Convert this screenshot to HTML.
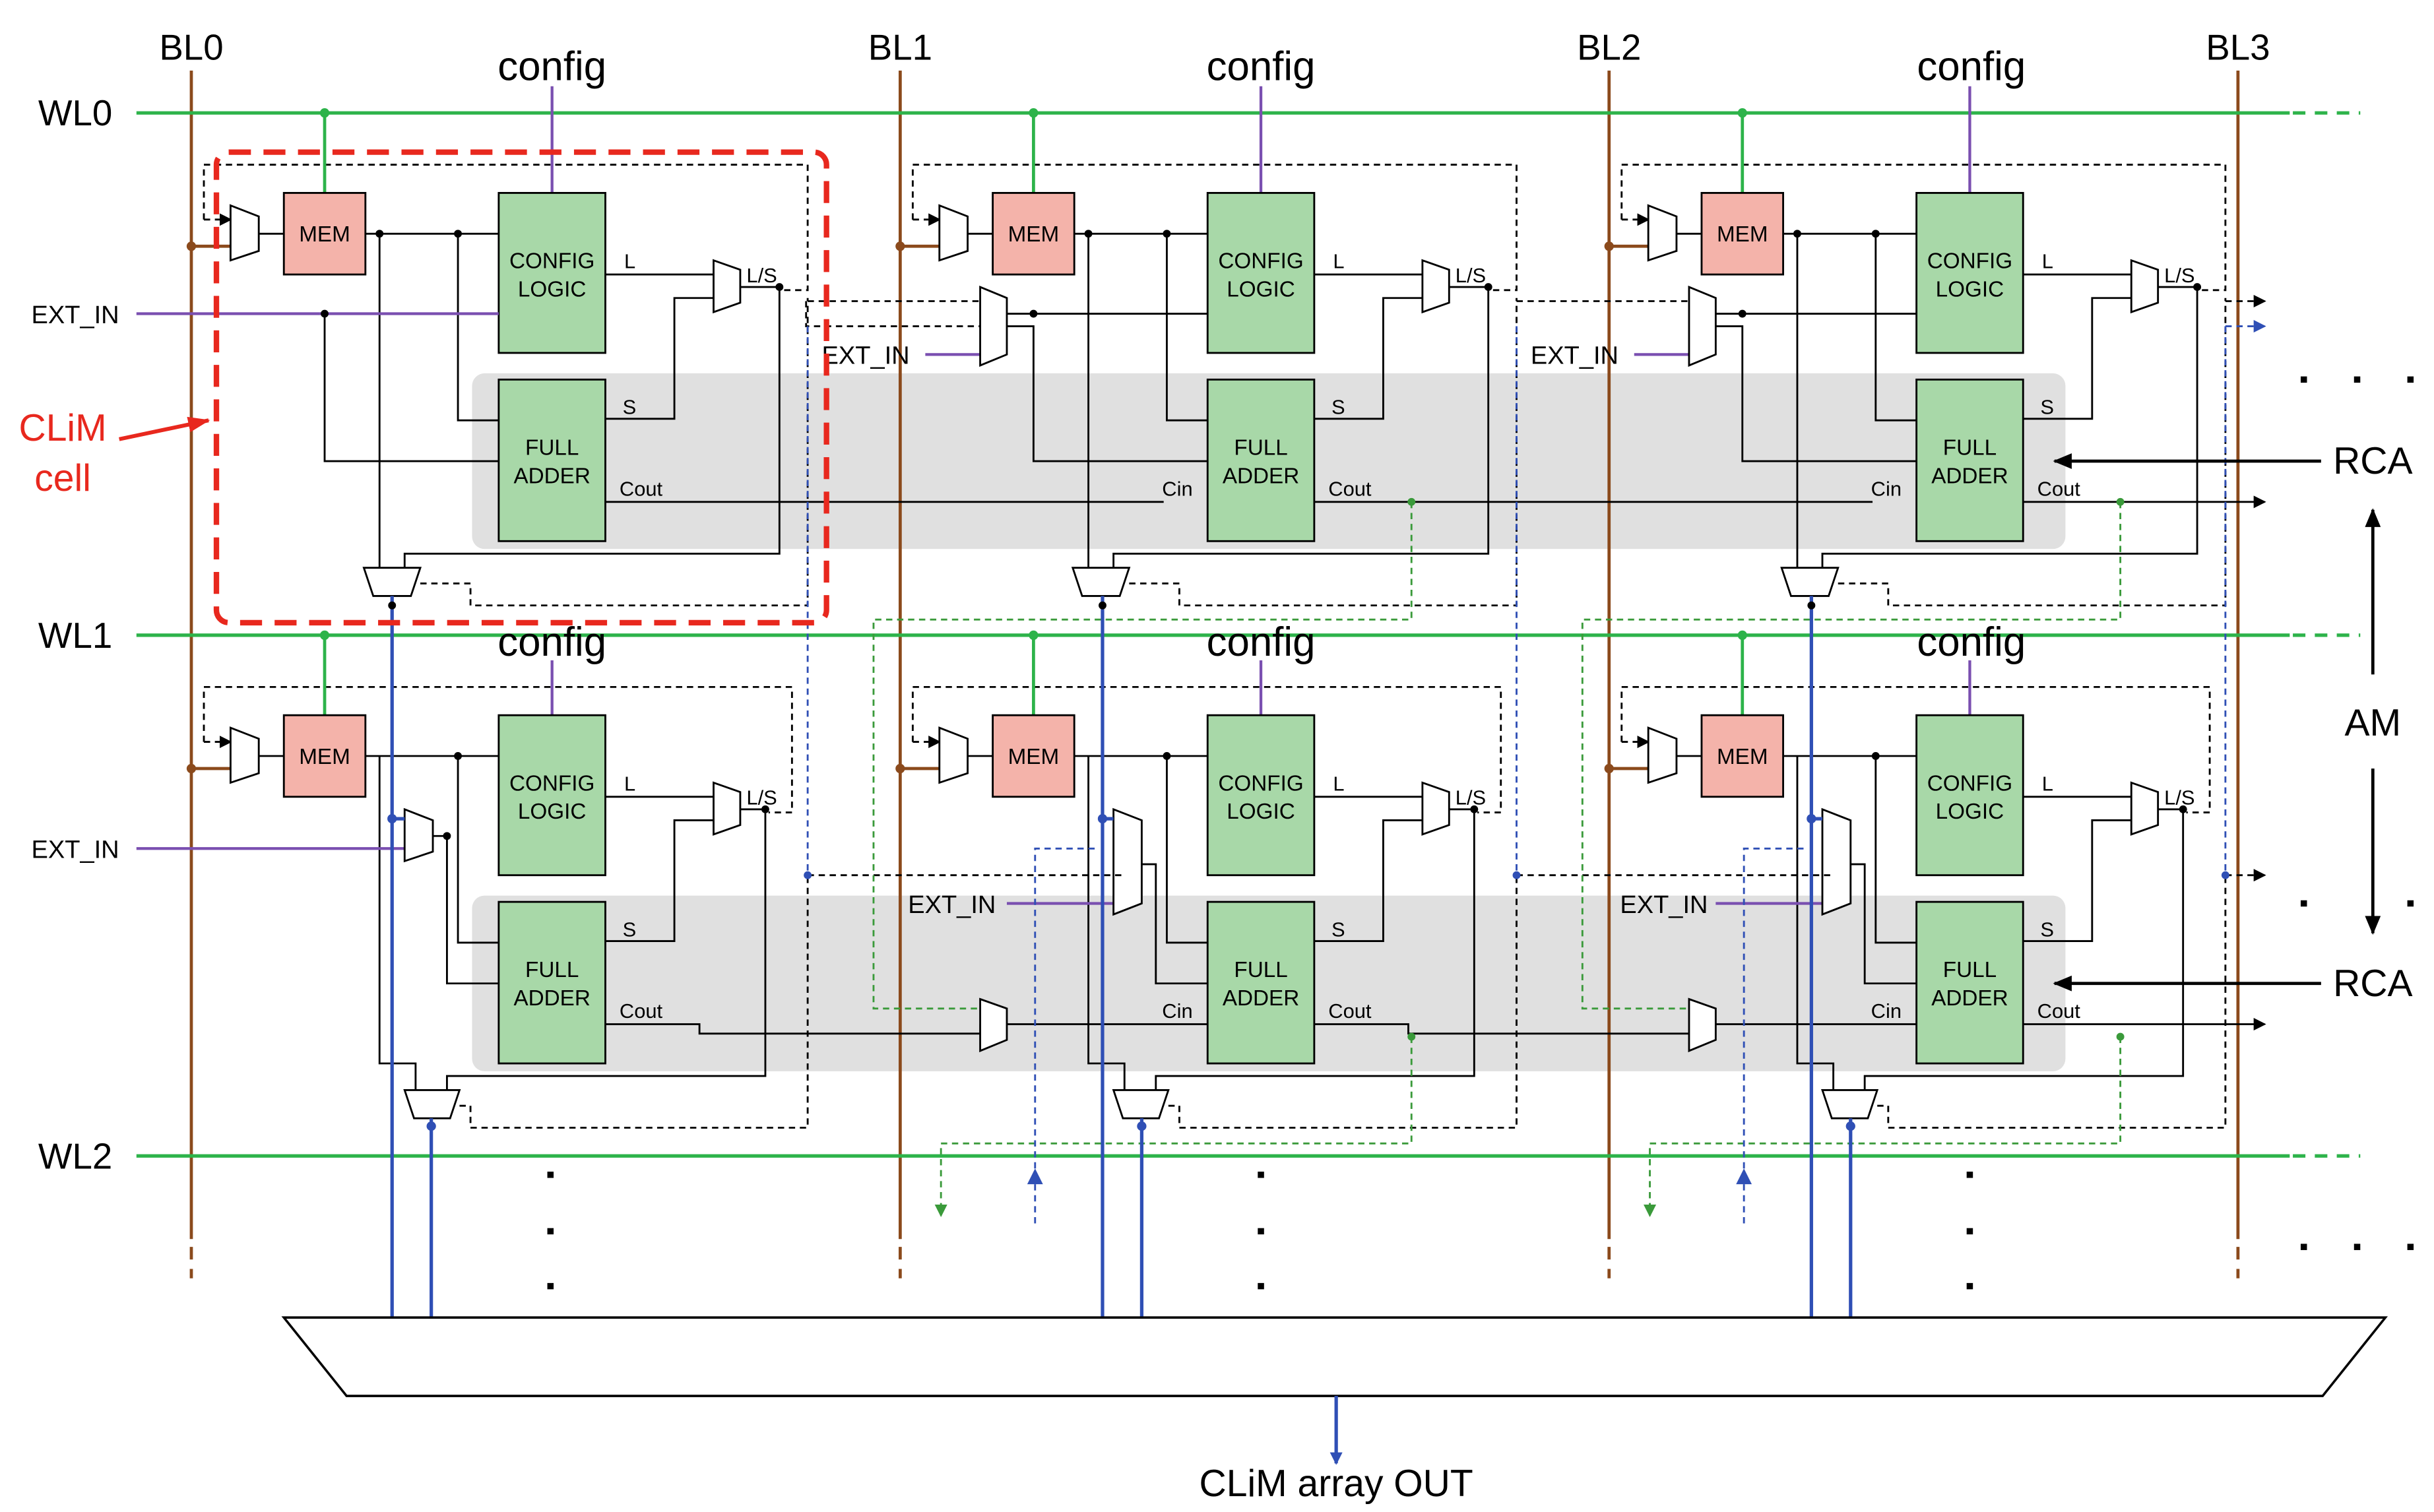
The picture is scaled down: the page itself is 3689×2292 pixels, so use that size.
<!DOCTYPE html>
<html><head><meta charset="utf-8"><style>
html,body{margin:0;padding:0;background:#fff;}
svg{display:block;}
text{font-family:"Liberation Sans",Arial,sans-serif;}
</style></head><body>
<svg width="3689" height="2292" viewBox="0 0 1552 964" preserveAspectRatio="none" xmlns="http://www.w3.org/2000/svg">
<rect width="1552" height="964" fill="#fff"/>
<defs>
<marker id="ab" markerWidth="8" markerHeight="8" refX="7" refY="4" orient="auto" markerUnits="userSpaceOnUse"><path d="M0,0 L8,4 L0,8z" fill="#000"/></marker>
<marker id="ab2" markerWidth="12" markerHeight="10" refX="11" refY="5" orient="auto" markerUnits="userSpaceOnUse"><path d="M0,0 L12,5 L0,10z" fill="#000"/></marker>
<marker id="ar" markerWidth="14" markerHeight="10" refX="13" refY="5" orient="auto" markerUnits="userSpaceOnUse"><path d="M0,0 L14,5 L0,10z" fill="#e8281e"/></marker>
<marker id="abl" markerWidth="8" markerHeight="8" refX="7" refY="4" orient="auto" markerUnits="userSpaceOnUse"><path d="M0,0 L8,4 L0,8z" fill="#2f4fb5"/></marker>
<marker id="agr" markerWidth="8" markerHeight="8" refX="7" refY="4" orient="auto" markerUnits="userSpaceOnUse"><path d="M0,0 L8,4 L0,8z" fill="#3a9a3a"/></marker>
</defs>

<!-- gray bands -->
<rect x="301" y="238" width="1016" height="112" rx="8" fill="#e0e0e0"/>
<rect x="301" y="571" width="1016" height="112" rx="8" fill="#e0e0e0"/>

<!-- bit lines -->
<g stroke="#8b4a1c" stroke-width="2">
<line x1="122" y1="45" x2="122" y2="790"/><line x1="122" y1="795" x2="122" y2="815" stroke-dasharray="8,6"/>
<line x1="574" y1="45" x2="574" y2="790"/><line x1="574" y1="795" x2="574" y2="815" stroke-dasharray="8,6"/>
<line x1="1026" y1="45" x2="1026" y2="790"/><line x1="1026" y1="795" x2="1026" y2="815" stroke-dasharray="8,6"/>
<line x1="1427" y1="45" x2="1427" y2="790"/><line x1="1427" y1="795" x2="1427" y2="815" stroke-dasharray="8,6"/>
</g>
<!-- word lines -->
<g stroke="#2db34a" stroke-width="2.2">
<line x1="87" y1="72" x2="1460" y2="72"/><line x1="1462" y1="72" x2="1505" y2="72" stroke-dasharray="8,6"/>
<line x1="87" y1="405" x2="1460" y2="405"/><line x1="1462" y1="405" x2="1505" y2="405" stroke-dasharray="8,6"/>
<line x1="87" y1="737" x2="1460" y2="737"/><line x1="1462" y1="737" x2="1505" y2="737" stroke-dasharray="8,6"/>
</g>

<g font-size="23" fill="#000" text-anchor="middle">
<text x="122" y="38">BL0</text><text x="574" y="38">BL1</text><text x="1026" y="38">BL2</text><text x="1427" y="38">BL3</text>
<text x="48" y="80">WL0</text><text x="48" y="413">WL1</text><text x="48" y="745">WL2</text>
</g>

<!-- CELL TEMPLATE repeated -->
<!-- cell (0,0) -->
<g transform="translate(0,0)">
<g fill="none" stroke="#000" stroke-width="1.2">
<line x1="122" y1="157" x2="147" y2="157" stroke="#8b4a1c" stroke-width="2"/>
<line x1="165" y1="149" x2="181" y2="149"/>
<polyline points="233,149 318,149"/>
<polyline points="292,149 292,268 318,268"/>
<polyline points="242,149 242,362"/>
<polyline points="386,175 455,175"/>
<polyline points="386,267 430,267 430,190 455,190"/>
<polyline points="472,183 497,183 497,353 258,353 258,362"/>
<polyline points="130,140 130,105 515,105 515,185 500,185" stroke-dasharray="4,3"/>
<polyline points="130,140 147,140" stroke-dasharray="4,3" marker-end="url(#ab)"/>
<polyline points="268,372 300,372 300,386 515,386 515,190" stroke-dasharray="4,3"/>
</g>
<line x1="207" y1="72" x2="207" y2="123" stroke="#2db34a" stroke-width="2"/><circle cx="207" cy="72" r="3" fill="#2db34a"/>
<line x1="352" y1="55" x2="352" y2="123" stroke="#7a4fb0" stroke-width="1.8"/>
<circle cx="122" cy="157" r="3" fill="#8b4a1c"/>
<polygon points="147,131 165,138 165,160 147,166" fill="#fff" stroke="#000" stroke-width="1.2"/>
<rect x="181" y="123" width="52" height="52" fill="#f4b3aa" stroke="#000" stroke-width="1.2"/>
<rect x="318" y="123" width="68" height="102" fill="#a8d8a8" stroke="#000" stroke-width="1.2"/>
<rect x="318" y="242" width="68" height="103" fill="#a8d8a8" stroke="#000" stroke-width="1.2"/>
<polygon points="455,166 472,172 472,193 455,199" fill="#fff" stroke="#000" stroke-width="1.2"/>
<polygon points="232,362 268,362 262,380 238,380" fill="#fff" stroke="#000" stroke-width="1.2"/>
<circle cx="242" cy="149" r="2.5"/><circle cx="292" cy="149" r="2.5"/><circle cx="497" cy="183" r="2.5"/>
<g font-size="14" text-anchor="middle"><text x="207" y="154">MEM</text><text x="352" y="171">CONFIG</text><text x="352" y="189">LOGIC</text><text x="352" y="290">FULL</text><text x="352" y="308">ADDER</text></g>
<g font-size="13"><text x="398" y="171">L</text><text x="476" y="180">L/S</text><text x="397" y="264">S</text><text x="395" y="316">Cout</text></g>
</g>
<!-- row0 col0 specifics -->
<line x1="87" y1="200" x2="318" y2="200" stroke="#7a4fb0" stroke-width="1.8"/>
<polyline points="207,200 207,294 318,294" fill="none" stroke="#000" stroke-width="1.2"/><circle cx="207" cy="200" r="2.5"/>
<text x="48" y="206" font-size="16" text-anchor="middle">EXT_IN</text>
<line x1="386" y1="320" x2="742" y2="320" stroke="#000" stroke-width="1.2"/>

<!-- cell (1,0) and (2,0) -->
<g transform="translate(452,0)">
<g fill="none" stroke="#000" stroke-width="1.2">
<line x1="122" y1="157" x2="147" y2="157" stroke="#8b4a1c" stroke-width="2"/>
<line x1="165" y1="149" x2="181" y2="149"/><polyline points="233,149 318,149"/>
<polyline points="292,149 292,268 318,268"/><polyline points="242,149 242,362"/>
<polyline points="386,175 455,175"/><polyline points="386,267 430,267 430,190 455,190"/>
<polyline points="472,183 497,183 497,353 258,353 258,362"/>
<polyline points="130,140 130,105 515,105 515,185 500,185" stroke-dasharray="4,3"/>
<polyline points="130,140 147,140" stroke-dasharray="4,3" marker-end="url(#ab)"/>
<polyline points="268,372 300,372 300,386 515,386 515,190" stroke-dasharray="4,3"/>
<polyline points="190,208 207,208 207,294 318,294"/>
<polyline points="190,200 318,200"/>
<polyline points="62,192 62,208 173,208" stroke-dasharray="4,3" transform="translate(0,0)"/>
</g>
<line x1="138" y1="226" x2="173" y2="226" stroke="#7a4fb0" stroke-width="1.8"/>
<polygon points="173,183 190,190 190,226 173,233" fill="#fff" stroke="#000" stroke-width="1.2"/>
<line x1="207" y1="72" x2="207" y2="123" stroke="#2db34a" stroke-width="2"/><circle cx="207" cy="72" r="3" fill="#2db34a"/>
<line x1="352" y1="55" x2="352" y2="123" stroke="#7a4fb0" stroke-width="1.8"/>
<circle cx="122" cy="157" r="3" fill="#8b4a1c"/>
<polygon points="147,131 165,138 165,160 147,166" fill="#fff" stroke="#000" stroke-width="1.2"/>
<rect x="181" y="123" width="52" height="52" fill="#f4b3aa" stroke="#000" stroke-width="1.2"/>
<rect x="318" y="123" width="68" height="102" fill="#a8d8a8" stroke="#000" stroke-width="1.2"/>
<rect x="318" y="242" width="68" height="103" fill="#a8d8a8" stroke="#000" stroke-width="1.2"/>
<polygon points="455,166 472,172 472,193 455,199" fill="#fff" stroke="#000" stroke-width="1.2"/>
<polygon points="232,362 268,362 262,380 238,380" fill="#fff" stroke="#000" stroke-width="1.2"/>
<circle cx="242" cy="149" r="2.5"/><circle cx="292" cy="149" r="2.5"/><circle cx="497" cy="183" r="2.5"/><circle cx="207" cy="200" r="2.5"/>
<g font-size="14" text-anchor="middle"><text x="207" y="154">MEM</text><text x="352" y="171">CONFIG</text><text x="352" y="189">LOGIC</text><text x="352" y="290">FULL</text><text x="352" y="308">ADDER</text></g>
<g font-size="13"><text x="398" y="171">L</text><text x="476" y="180">L/S</text><text x="397" y="264">S</text><text x="395" y="316">Cout</text><text x="289" y="316">Cin</text></g>
<text x="100" y="232" font-size="16" text-anchor="middle">EXT_IN</text>
</g>
<g transform="translate(904,0)">
<g fill="none" stroke="#000" stroke-width="1.2">
<line x1="122" y1="157" x2="147" y2="157" stroke="#8b4a1c" stroke-width="2"/>
<line x1="165" y1="149" x2="181" y2="149"/><polyline points="233,149 318,149"/>
<polyline points="292,149 292,268 318,268"/><polyline points="242,149 242,362"/>
<polyline points="386,175 455,175"/><polyline points="386,267 430,267 430,190 455,190"/>
<polyline points="472,183 497,183 497,353 258,353 258,362"/>
<polyline points="130,140 130,105 515,105 515,185 500,185" stroke-dasharray="4,3"/>
<polyline points="130,140 147,140" stroke-dasharray="4,3" marker-end="url(#ab)"/>
<polyline points="268,372 300,372 300,386 515,386 515,190" stroke-dasharray="4,3"/>
<polyline points="190,208 207,208 207,294 318,294"/>
<polyline points="190,200 318,200"/>
</g>
<line x1="138" y1="226" x2="173" y2="226" stroke="#7a4fb0" stroke-width="1.8"/>
<polygon points="173,183 190,190 190,226 173,233" fill="#fff" stroke="#000" stroke-width="1.2"/>
<line x1="207" y1="72" x2="207" y2="123" stroke="#2db34a" stroke-width="2"/><circle cx="207" cy="72" r="3" fill="#2db34a"/>
<line x1="352" y1="55" x2="352" y2="123" stroke="#7a4fb0" stroke-width="1.8"/>
<circle cx="122" cy="157" r="3" fill="#8b4a1c"/>
<polygon points="147,131 165,138 165,160 147,166" fill="#fff" stroke="#000" stroke-width="1.2"/>
<rect x="181" y="123" width="52" height="52" fill="#f4b3aa" stroke="#000" stroke-width="1.2"/>
<rect x="318" y="123" width="68" height="102" fill="#a8d8a8" stroke="#000" stroke-width="1.2"/>
<rect x="318" y="242" width="68" height="103" fill="#a8d8a8" stroke="#000" stroke-width="1.2"/>
<polygon points="455,166 472,172 472,193 455,199" fill="#fff" stroke="#000" stroke-width="1.2"/>
<polygon points="232,362 268,362 262,380 238,380" fill="#fff" stroke="#000" stroke-width="1.2"/>
<circle cx="242" cy="149" r="2.5"/><circle cx="292" cy="149" r="2.5"/><circle cx="497" cy="183" r="2.5"/><circle cx="207" cy="200" r="2.5"/>
<g font-size="14" text-anchor="middle"><text x="207" y="154">MEM</text><text x="352" y="171">CONFIG</text><text x="352" y="189">LOGIC</text><text x="352" y="290">FULL</text><text x="352" y="308">ADDER</text></g>
<g font-size="13"><text x="398" y="171">L</text><text x="476" y="180">L/S</text><text x="397" y="264">S</text><text x="395" y="316">Cout</text><text x="289" y="316">Cin</text></g>
<text x="100" y="232" font-size="16" text-anchor="middle">EXT_IN</text>
</g>
<line x1="838" y1="320" x2="1194" y2="320" stroke="#000" stroke-width="1.2"/>
<line x1="1290" y1="320" x2="1444" y2="320" stroke="#000" stroke-width="1.2" marker-end="url(#ab)"/>
<line x1="515" y1="192" x2="625" y2="192" stroke="#000" stroke-width="1.2" stroke-dasharray="4,3"/>
<line x1="967" y1="192" x2="1077" y2="192" stroke="#000" stroke-width="1.2" stroke-dasharray="4,3"/>
<line x1="1419" y1="192" x2="1444" y2="192" stroke="#000" stroke-width="1.2" stroke-dasharray="4,3" marker-end="url(#ab)"/>

<!-- row 1 cells -->
<g transform="translate(0,333)">
<g fill="none" stroke="#000" stroke-width="1.2">
<line x1="122" y1="157" x2="147" y2="157" stroke="#8b4a1c" stroke-width="2"/>
<line x1="165" y1="149" x2="181" y2="149"/><polyline points="233,149 318,149"/>
<polyline points="292,149 292,268 318,268"/><polyline points="242,149 242,345 265,345 265,362"/>
<polyline points="386,175 455,175"/><polyline points="386,267 430,267 430,190 455,190"/>
<polyline points="472,183 488,183 488,353 285,353 285,362"/>
<polyline points="130,140 130,105 505,105 505,185 490,185" stroke-dasharray="4,3"/>
<polyline points="130,140 147,140" stroke-dasharray="4,3" marker-end="url(#ab)"/>
<polyline points="293,372 300,372 300,386 515,386 515,225" stroke-dasharray="4,3"/>
<polyline points="276,200 285,200 285,294 318,294"/>
</g>
<line x1="87" y1="208" x2="258" y2="208" stroke="#7a4fb0" stroke-width="1.8"/>
<polygon points="258,183 276,190 276,210 258,216" fill="#fff" stroke="#000" stroke-width="1.2"/>
<line x1="207" y1="72" x2="207" y2="123" stroke="#2db34a" stroke-width="2"/><circle cx="207" cy="72" r="3" fill="#2db34a"/>
<line x1="352" y1="88" x2="352" y2="123" stroke="#7a4fb0" stroke-width="1.8"/>
<circle cx="122" cy="157" r="3" fill="#8b4a1c"/>
<polygon points="147,131 165,138 165,160 147,166" fill="#fff" stroke="#000" stroke-width="1.2"/>
<rect x="181" y="123" width="52" height="52" fill="#f4b3aa" stroke="#000" stroke-width="1.2"/>
<rect x="318" y="123" width="68" height="102" fill="#a8d8a8" stroke="#000" stroke-width="1.2"/>
<rect x="318" y="242" width="68" height="103" fill="#a8d8a8" stroke="#000" stroke-width="1.2"/>
<polygon points="455,166 472,172 472,193 455,199" fill="#fff" stroke="#000" stroke-width="1.2"/>
<polygon points="258,362 293,362 287,380 264,380" fill="#fff" stroke="#000" stroke-width="1.2"/>
<circle cx="292" cy="149" r="2.5"/><circle cx="488" cy="183" r="2.5"/><circle cx="285" cy="200" r="2.5"/>
<g font-size="14" text-anchor="middle"><text x="207" y="154">MEM</text><text x="352" y="171">CONFIG</text><text x="352" y="189">LOGIC</text><text x="352" y="290">FULL</text><text x="352" y="308">ADDER</text></g>
<g font-size="13"><text x="398" y="171">L</text><text x="476" y="180">L/S</text><text x="397" y="264">S</text><text x="395" y="316">Cout</text></g>
<text x="48" y="214" font-size="16" text-anchor="middle">EXT_IN</text>
<polyline points="386,320 446,320 446,326 625,326" fill="none" stroke="#000" stroke-width="1.2"/>
</g>
<g transform="translate(452,333)">
<g fill="none" stroke="#000" stroke-width="1.2">
<line x1="122" y1="157" x2="147" y2="157" stroke="#8b4a1c" stroke-width="2"/>
<line x1="165" y1="149" x2="181" y2="149"/><polyline points="233,149 318,149"/>
<polyline points="292,149 292,268 318,268"/><polyline points="242,149 242,345 265,345 265,362"/>
<polyline points="386,175 455,175"/><polyline points="386,267 430,267 430,190 455,190"/>
<polyline points="472,183 488,183 488,353 285,353 285,362"/>
<polyline points="130,140 130,105 505,105 505,185 490,185" stroke-dasharray="4,3"/>
<polyline points="130,140 147,140" stroke-dasharray="4,3" marker-end="url(#ab)"/>
<polyline points="293,372 300,372 300,386 515,386 515,225" stroke-dasharray="4,3"/>
<polyline points="276,218 285,218 285,294 318,294"/>
</g>
<line x1="190" y1="243" x2="258" y2="243" stroke="#7a4fb0" stroke-width="1.8"/>
<polygon points="258,183 276,190 276,243 258,250" fill="#fff" stroke="#000" stroke-width="1.2"/>
<polyline points="173,320 173,326" stroke="#000"/>
<polygon points="173,304 190,310 190,330 173,337" fill="#fff" stroke="#000" stroke-width="1.2"/>
<line x1="190" y1="320" x2="318" y2="320" stroke="#000" stroke-width="1.2"/>
<line x1="207" y1="72" x2="207" y2="123" stroke="#2db34a" stroke-width="2"/><circle cx="207" cy="72" r="3" fill="#2db34a"/>
<line x1="352" y1="88" x2="352" y2="123" stroke="#7a4fb0" stroke-width="1.8"/>
<circle cx="122" cy="157" r="3" fill="#8b4a1c"/>
<polygon points="147,131 165,138 165,160 147,166" fill="#fff" stroke="#000" stroke-width="1.2"/>
<rect x="181" y="123" width="52" height="52" fill="#f4b3aa" stroke="#000" stroke-width="1.2"/>
<rect x="318" y="123" width="68" height="102" fill="#a8d8a8" stroke="#000" stroke-width="1.2"/>
<rect x="318" y="242" width="68" height="103" fill="#a8d8a8" stroke="#000" stroke-width="1.2"/>
<polygon points="455,166 472,172 472,193 455,199" fill="#fff" stroke="#000" stroke-width="1.2"/>
<polygon points="258,362 293,362 287,380 264,380" fill="#fff" stroke="#000" stroke-width="1.2"/>
<circle cx="292" cy="149" r="2.5"/><circle cx="488" cy="183" r="2.5"/>
<g font-size="14" text-anchor="middle"><text x="207" y="154">MEM</text><text x="352" y="171">CONFIG</text><text x="352" y="189">LOGIC</text><text x="352" y="290">FULL</text><text x="352" y="308">ADDER</text></g>
<g font-size="13"><text x="398" y="171">L</text><text x="476" y="180">L/S</text><text x="397" y="264">S</text><text x="395" y="316">Cout</text><text x="289" y="316">Cin</text></g>
<text x="155" y="249" font-size="16" text-anchor="middle">EXT_IN</text>
<polyline points="386,320 446,320 446,326 625,326" fill="none" stroke="#000" stroke-width="1.2"/>
</g>
<g transform="translate(904,333)">
<g fill="none" stroke="#000" stroke-width="1.2">
<line x1="122" y1="157" x2="147" y2="157" stroke="#8b4a1c" stroke-width="2"/>
<line x1="165" y1="149" x2="181" y2="149"/><polyline points="233,149 318,149"/>
<polyline points="292,149 292,268 318,268"/><polyline points="242,149 242,345 265,345 265,362"/>
<polyline points="386,175 455,175"/><polyline points="386,267 430,267 430,190 455,190"/>
<polyline points="472,183 488,183 488,353 285,353 285,362"/>
<polyline points="130,140 130,105 505,105 505,185 490,185" stroke-dasharray="4,3"/>
<polyline points="130,140 147,140" stroke-dasharray="4,3" marker-end="url(#ab)"/>
<polyline points="293,372 300,372 300,386 515,386 515,225" stroke-dasharray="4,3"/>
<polyline points="276,218 285,218 285,294 318,294"/>
</g>
<line x1="190" y1="243" x2="258" y2="243" stroke="#7a4fb0" stroke-width="1.8"/>
<polygon points="258,183 276,190 276,243 258,250" fill="#fff" stroke="#000" stroke-width="1.2"/>
<polygon points="173,304 190,310 190,330 173,337" fill="#fff" stroke="#000" stroke-width="1.2"/>
<line x1="190" y1="320" x2="318" y2="320" stroke="#000" stroke-width="1.2"/>
<line x1="207" y1="72" x2="207" y2="123" stroke="#2db34a" stroke-width="2"/><circle cx="207" cy="72" r="3" fill="#2db34a"/>
<line x1="352" y1="88" x2="352" y2="123" stroke="#7a4fb0" stroke-width="1.8"/>
<circle cx="122" cy="157" r="3" fill="#8b4a1c"/>
<polygon points="147,131 165,138 165,160 147,166" fill="#fff" stroke="#000" stroke-width="1.2"/>
<rect x="181" y="123" width="52" height="52" fill="#f4b3aa" stroke="#000" stroke-width="1.2"/>
<rect x="318" y="123" width="68" height="102" fill="#a8d8a8" stroke="#000" stroke-width="1.2"/>
<rect x="318" y="242" width="68" height="103" fill="#a8d8a8" stroke="#000" stroke-width="1.2"/>
<polygon points="455,166 472,172 472,193 455,199" fill="#fff" stroke="#000" stroke-width="1.2"/>
<polygon points="258,362 293,362 287,380 264,380" fill="#fff" stroke="#000" stroke-width="1.2"/>
<circle cx="292" cy="149" r="2.5"/><circle cx="488" cy="183" r="2.5"/>
<g font-size="14" text-anchor="middle"><text x="207" y="154">MEM</text><text x="352" y="171">CONFIG</text><text x="352" y="189">LOGIC</text><text x="352" y="290">FULL</text><text x="352" y="308">ADDER</text></g>
<g font-size="13"><text x="398" y="171">L</text><text x="476" y="180">L/S</text><text x="397" y="264">S</text><text x="395" y="316">Cout</text><text x="289" y="316">Cin</text></g>
<text x="157" y="249" font-size="16" text-anchor="middle">EXT_IN</text>
<line x1="386" y1="320" x2="540" y2="320" stroke="#000" stroke-width="1.2" marker-end="url(#ab)"/>
</g>
<line x1="515" y1="558" x2="715" y2="558" stroke="#000" stroke-width="1.2" stroke-dasharray="4,3"/>
<line x1="967" y1="558" x2="1167" y2="558" stroke="#000" stroke-width="1.2" stroke-dasharray="4,3"/>
<line x1="1419" y1="558" x2="1444" y2="558" stroke="#000" stroke-width="1.2" stroke-dasharray="4,3" marker-end="url(#ab)"/>

<!-- config labels -->
<g font-size="26" text-anchor="middle">
<text x="352" y="51">config</text><text x="804" y="51">config</text><text x="1257" y="51">config</text>
<text x="352" y="418">config</text><text x="804" y="418">config</text><text x="1257" y="418">config</text>
</g>

<!-- green dashed carry paths -->
<g fill="none" stroke="#3a9a3a" stroke-width="1.2" stroke-dasharray="4,3">
<polyline points="900,320 900,395 557,395 557,643 625,643"/>
<polyline points="1352,320 1352,395 1009,395 1009,643 1077,643"/>
<polyline points="900,661 900,729 600,729 600,775" marker-end="url(#agr)"/>
<polyline points="1352,661 1352,729 1052,729 1052,775" marker-end="url(#agr)"/>
</g>
<circle cx="900" cy="320" r="2.5" fill="#3a9a3a"/><circle cx="1352" cy="320" r="2.5" fill="#3a9a3a"/>
<circle cx="900" cy="661" r="2.5" fill="#3a9a3a"/><circle cx="1352" cy="661" r="2.5" fill="#3a9a3a"/>

<!-- blue dashed -->
<g fill="none" stroke="#2f4fb5" stroke-width="1.2" stroke-dasharray="4,3">
<polyline points="515,208 515,558"/>
<polyline points="967,208 967,558"/>
<polyline points="1419,208 1444,208" marker-end="url(#abl)"/>
<polyline points="1419,208 1419,558"/>
<polyline points="660,780 660,541 700,541"/>
<polyline points="1112,780 1112,541 1152,541"/>
<polyline points="703,760 703,840"/><polyline points="1155,760 1155,840"/>
<polyline points="250,760 250,840"/>
</g>
<circle cx="515" cy="558" r="2.5" fill="#2f4fb5"/><circle cx="967" cy="558" r="2.5" fill="#2f4fb5"/><circle cx="1419" cy="558" r="2.5" fill="#2f4fb5"/>
<path d="M655,755 L660,745 L665,755z" fill="#2f4fb5"/><path d="M1107,755 L1112,745 L1117,755z" fill="#2f4fb5"/>
<!-- blue solid outputs -->
<g stroke="#2f4fb5" stroke-width="2.2" fill="none">
<polyline points="250,380 250,840"/><polyline points="275,713 275,840"/>
<polyline points="703,380 703,840"/><polyline points="728,713 728,840"/>
<polyline points="1155,380 1155,840"/><polyline points="1180,713 1180,840"/>
<polyline points="250,522 258,522"/><polyline points="703,522 710,522"/><polyline points="1155,522 1162,522"/>
</g>
<g fill="#2f4fb5"><circle cx="250" cy="522" r="3"/><circle cx="703" cy="522" r="3"/><circle cx="1155" cy="522" r="3"/>
<circle cx="275" cy="718" r="3"/><circle cx="728" cy="718" r="3"/><circle cx="1180" cy="718" r="3"/></g>
<circle cx="250" cy="386" r="2.5"/><circle cx="703" cy="386" r="2.5"/><circle cx="1155" cy="386" r="2.5"/>

<!-- red dashed CLiM cell -->
<rect x="138" y="97" width="389" height="300" rx="8" fill="none" stroke="#e8281e" stroke-width="3.5" stroke-dasharray="14,8"/>
<text x="40" y="281" font-size="24" fill="#e8281e" text-anchor="middle">CLiM</text>
<text x="40" y="313" font-size="24" fill="#e8281e" text-anchor="middle">cell</text>
<line x1="76" y1="280" x2="133" y2="268" stroke="#e8281e" stroke-width="2.5" marker-end="url(#ar)"/>

<!-- RCA / AM -->
<g font-size="24" text-anchor="middle"><text x="1513" y="302">RCA</text><text x="1513" y="635">RCA</text><text x="1513" y="469">AM</text></g>
<line x1="1480" y1="294" x2="1310" y2="294" stroke="#000" stroke-width="2" marker-end="url(#ab2)"/>
<line x1="1480" y1="627" x2="1310" y2="627" stroke="#000" stroke-width="2" marker-end="url(#ab2)"/>
<line x1="1513" y1="430" x2="1513" y2="325" stroke="#000" stroke-width="2" marker-end="url(#ab2)"/>
<line x1="1513" y1="490" x2="1513" y2="595" stroke="#000" stroke-width="2" marker-end="url(#ab2)"/>

<!-- dots -->
<g fill="#000">
<rect x="1467" y="240" width="4" height="4"/><rect x="1501" y="240" width="4" height="4"/><rect x="1535" y="240" width="4" height="4"/>
<rect x="1467" y="574" width="4" height="4"/><rect x="1535" y="574" width="4" height="4"/>
<rect x="1467" y="793" width="4" height="4"/><rect x="1501" y="793" width="4" height="4"/><rect x="1535" y="793" width="4" height="4"/>
<rect x="349" y="747" width="4" height="4"/><rect x="349" y="783" width="4" height="4"/><rect x="349" y="818" width="4" height="4"/>
<rect x="802" y="747" width="4" height="4"/><rect x="802" y="783" width="4" height="4"/><rect x="802" y="818" width="4" height="4"/>
<rect x="1254" y="747" width="4" height="4"/><rect x="1254" y="783" width="4" height="4"/><rect x="1254" y="818" width="4" height="4"/>
</g>

<!-- output trapezoid -->
<polygon points="181,840 1521,840 1481,890 221,890" fill="#fff" stroke="#000" stroke-width="1.5"/>
<line x1="852" y1="890" x2="852" y2="933" stroke="#2f4fb5" stroke-width="2.2" marker-end="url(#abl)"/>
<text x="852" y="954" font-size="24" text-anchor="middle">CLiM array OUT</text>
</svg>
</body></html>
